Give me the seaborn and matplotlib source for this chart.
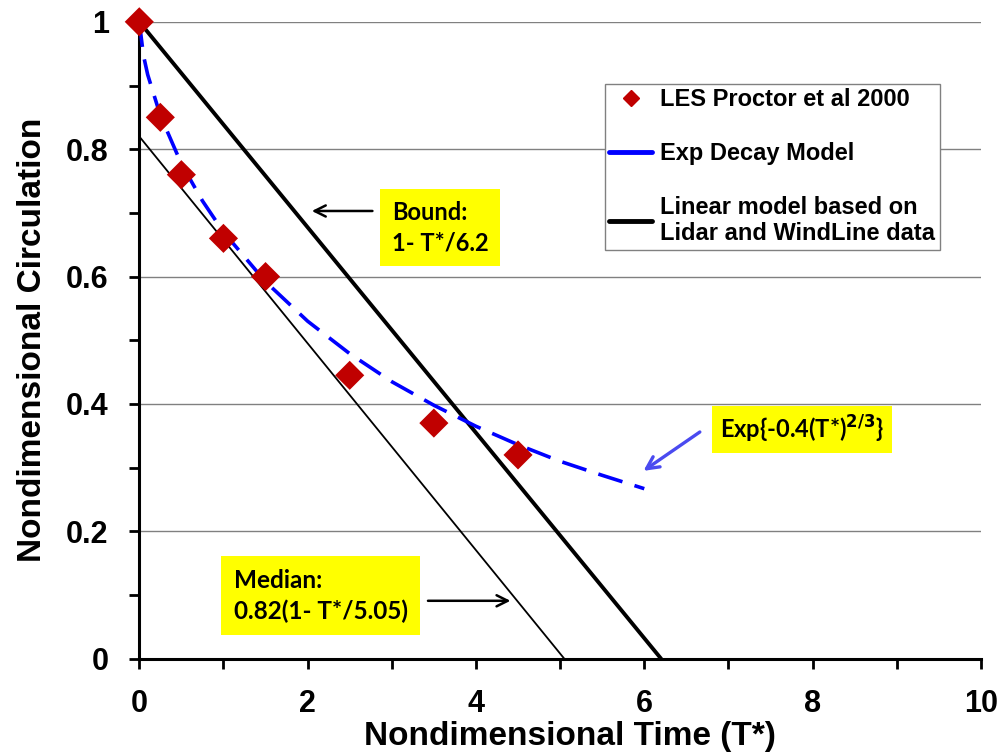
import matplotlib

matplotlib.use("Agg")

import matplotlib.pyplot as plt
import seaborn as sns
from matplotlib.lines import Line2D
from matplotlib.ticker import MultipleLocator

# LES points (Proctor et al 2000)
les_t = [0.0, 0.25, 0.5, 1.0, 1.5, 2.5, 3.5, 4.5]
les_gamma = [1.0, 0.85, 0.76, 0.66, 0.60, 0.445, 0.37, 0.32]

# exp decay model curve
exp_t = [0.0, 0.05, 0.1, 0.25, 0.5, 0.75, 1.0, 1.5, 2.0, 2.5, 3.0, 3.5, 4.0, 4.5, 5.0, 5.5, 6.0]
exp_gamma = [1.0, 0.947, 0.917, 0.853, 0.777, 0.719, 0.670, 0.592, 0.530, 0.479,
             0.435, 0.398, 0.365, 0.336, 0.310, 0.288, 0.267]

# linear models: bound and median (end points)
bound_t = [0.0, 6.2]
bound_gamma = [1.0, 0.0]
median_t = [0.0, 5.05]
median_gamma = [0.82, 0.0]

x_ticks = [0, 2, 4, 6, 8, 10]
x_ticklabels = ["0", "2", "4", "6", "8", "10"]
y_ticks = [0, 0.2, 0.4, 0.6, 0.8, 1.0]
y_ticklabels = ["0", "0.2", "0.4", "0.6", "0.8", "1"]

sns.set_theme(style="white")
plt.rcParams["font.family"] = ["Liberation Sans", "DejaVu Sans"]
plt.rcParams["font.weight"] = "bold"
plt.rcParams["axes.labelweight"] = "bold"
plt.rcParams["text.color"] = "black"
plt.rcParams["axes.labelcolor"] = "black"
plt.rcParams["xtick.color"] = "black"
plt.rcParams["ytick.color"] = "black"

fig = plt.figure(figsize=(10.02, 7.52), dpi=100)
ax = fig.add_axes([0.139, 0.124, 0.840, 0.847])

for y in y_ticks[1:]:
    ax.axhline(y, color="#808080", lw=1.0, zorder=0)

sns.lineplot(x=median_t, y=median_gamma, ax=ax, color="black", lw=1.3, zorder=2)
sns.lineplot(x=bound_t, y=bound_gamma, ax=ax, color="black", lw=2.8, zorder=2)
sns.lineplot(x=exp_t, y=exp_gamma, ax=ax, color="#0000FF", lw=2.6, zorder=3,
             linestyle=(0, (7, 3.5)))
sns.scatterplot(x=les_t, y=les_gamma, ax=ax, marker="D", s=220, color="#C00000",
                edgecolor="none", zorder=4, clip_on=False)

ax.set_xlim(0, 10)
ax.set_ylim(0, 1)
ax.set_xticks(x_ticks, x_ticklabels)
ax.set_yticks(y_ticks, y_ticklabels)
ax.xaxis.set_minor_locator(MultipleLocator(1))
ax.yaxis.set_minor_locator(MultipleLocator(0.1))
ax.tick_params(which="both", direction="out", width=2, bottom=True, left=True)
ax.tick_params(which="major", length=7, labelsize=22)
ax.tick_params(axis="x", which="major", pad=15)
ax.tick_params(axis="y", which="major", pad=15)
ax.tick_params(which="minor", length=7)
for lbl in ax.get_xticklabels() + ax.get_yticklabels():
    lbl.set_fontweight("bold")

for side in ["top", "right"]:
    ax.spines[side].set_visible(False)
for side in ["left", "bottom"]:
    ax.spines[side].set_color("black")
    ax.spines[side].set_linewidth(2.2)

ax.set_xlabel("Nondimensional Time (T*)", fontsize=24, fontweight="bold")
ax.set_ylabel("Nondimensional Circulation", fontsize=24, fontweight="bold")
ax.xaxis.set_label_coords(0.512, -0.097)
ax.yaxis.set_label_coords(-0.108, 0.5)

handles = [
    Line2D([], [], marker="D", color="#C00000", ls="none", markersize=8),
    Line2D([], [], color="#0000FF", lw=3.5),
    Line2D([], [], color="black", lw=3.5),
]
labels = ["LES Proctor et al 2000", "Exp Decay Model",
          "Linear model based on\nLidar and WindLine data"]
leg = ax.legend(handles, labels, loc="upper left", bbox_to_anchor=(0.553, 0.903),
                fancybox=False, framealpha=1, edgecolor="#808080",
                prop={"weight": "bold", "size": 17}, labelspacing=1.3,
                handlelength=1.8, handletextpad=0.35, borderpad=0.2,
                borderaxespad=0)
leg.get_frame().set_linewidth(1.0)

box = dict(boxstyle="square,pad=0.5", facecolor="#FFFF00", edgecolor="none")
calib = ["Lato", "DejaVu Sans"]
arrow_k = dict(arrowstyle="->", color="black", lw=1.8, shrinkA=0, shrinkB=0,
               mutation_scale=20)

ax.text(3.0, 0.677, "Bound:\n1- T*/6.2", fontsize=17, fontweight="bold", family=calib,
        va="center", ha="left", linespacing=1.4, bbox=box, zorder=5)
ax.annotate("", xy=(2.05, 0.703), xytext=(2.77, 0.703), arrowprops=arrow_k)

ax.text(1.12, 0.099, "Median:\n0.82(1- T*/5.05)", fontsize=17.5, fontweight="bold",
        family=calib, va="center", ha="left", linespacing=1.4, bbox=box, zorder=5)
ax.annotate("", xy=(4.41, 0.091), xytext=(3.43, 0.091), arrowprops=arrow_k)

ax.text(6.9, 0.36, "Exp{-0.4(T*)$^{2/3}$}", fontsize=17, fontweight="bold",
        family=calib, va="center", ha="left", zorder=5,
        bbox=dict(boxstyle="square,pad=0.35", facecolor="#FFFF00", edgecolor="none"))
ax.annotate("", xy=(5.99, 0.295), xytext=(6.66, 0.356),
            arrowprops=dict(arrowstyle="->", color="#4A4AF0", lw=2.4, shrinkA=0,
                            shrinkB=0, mutation_scale=22))

fig.savefig("out.png", dpi=100)
